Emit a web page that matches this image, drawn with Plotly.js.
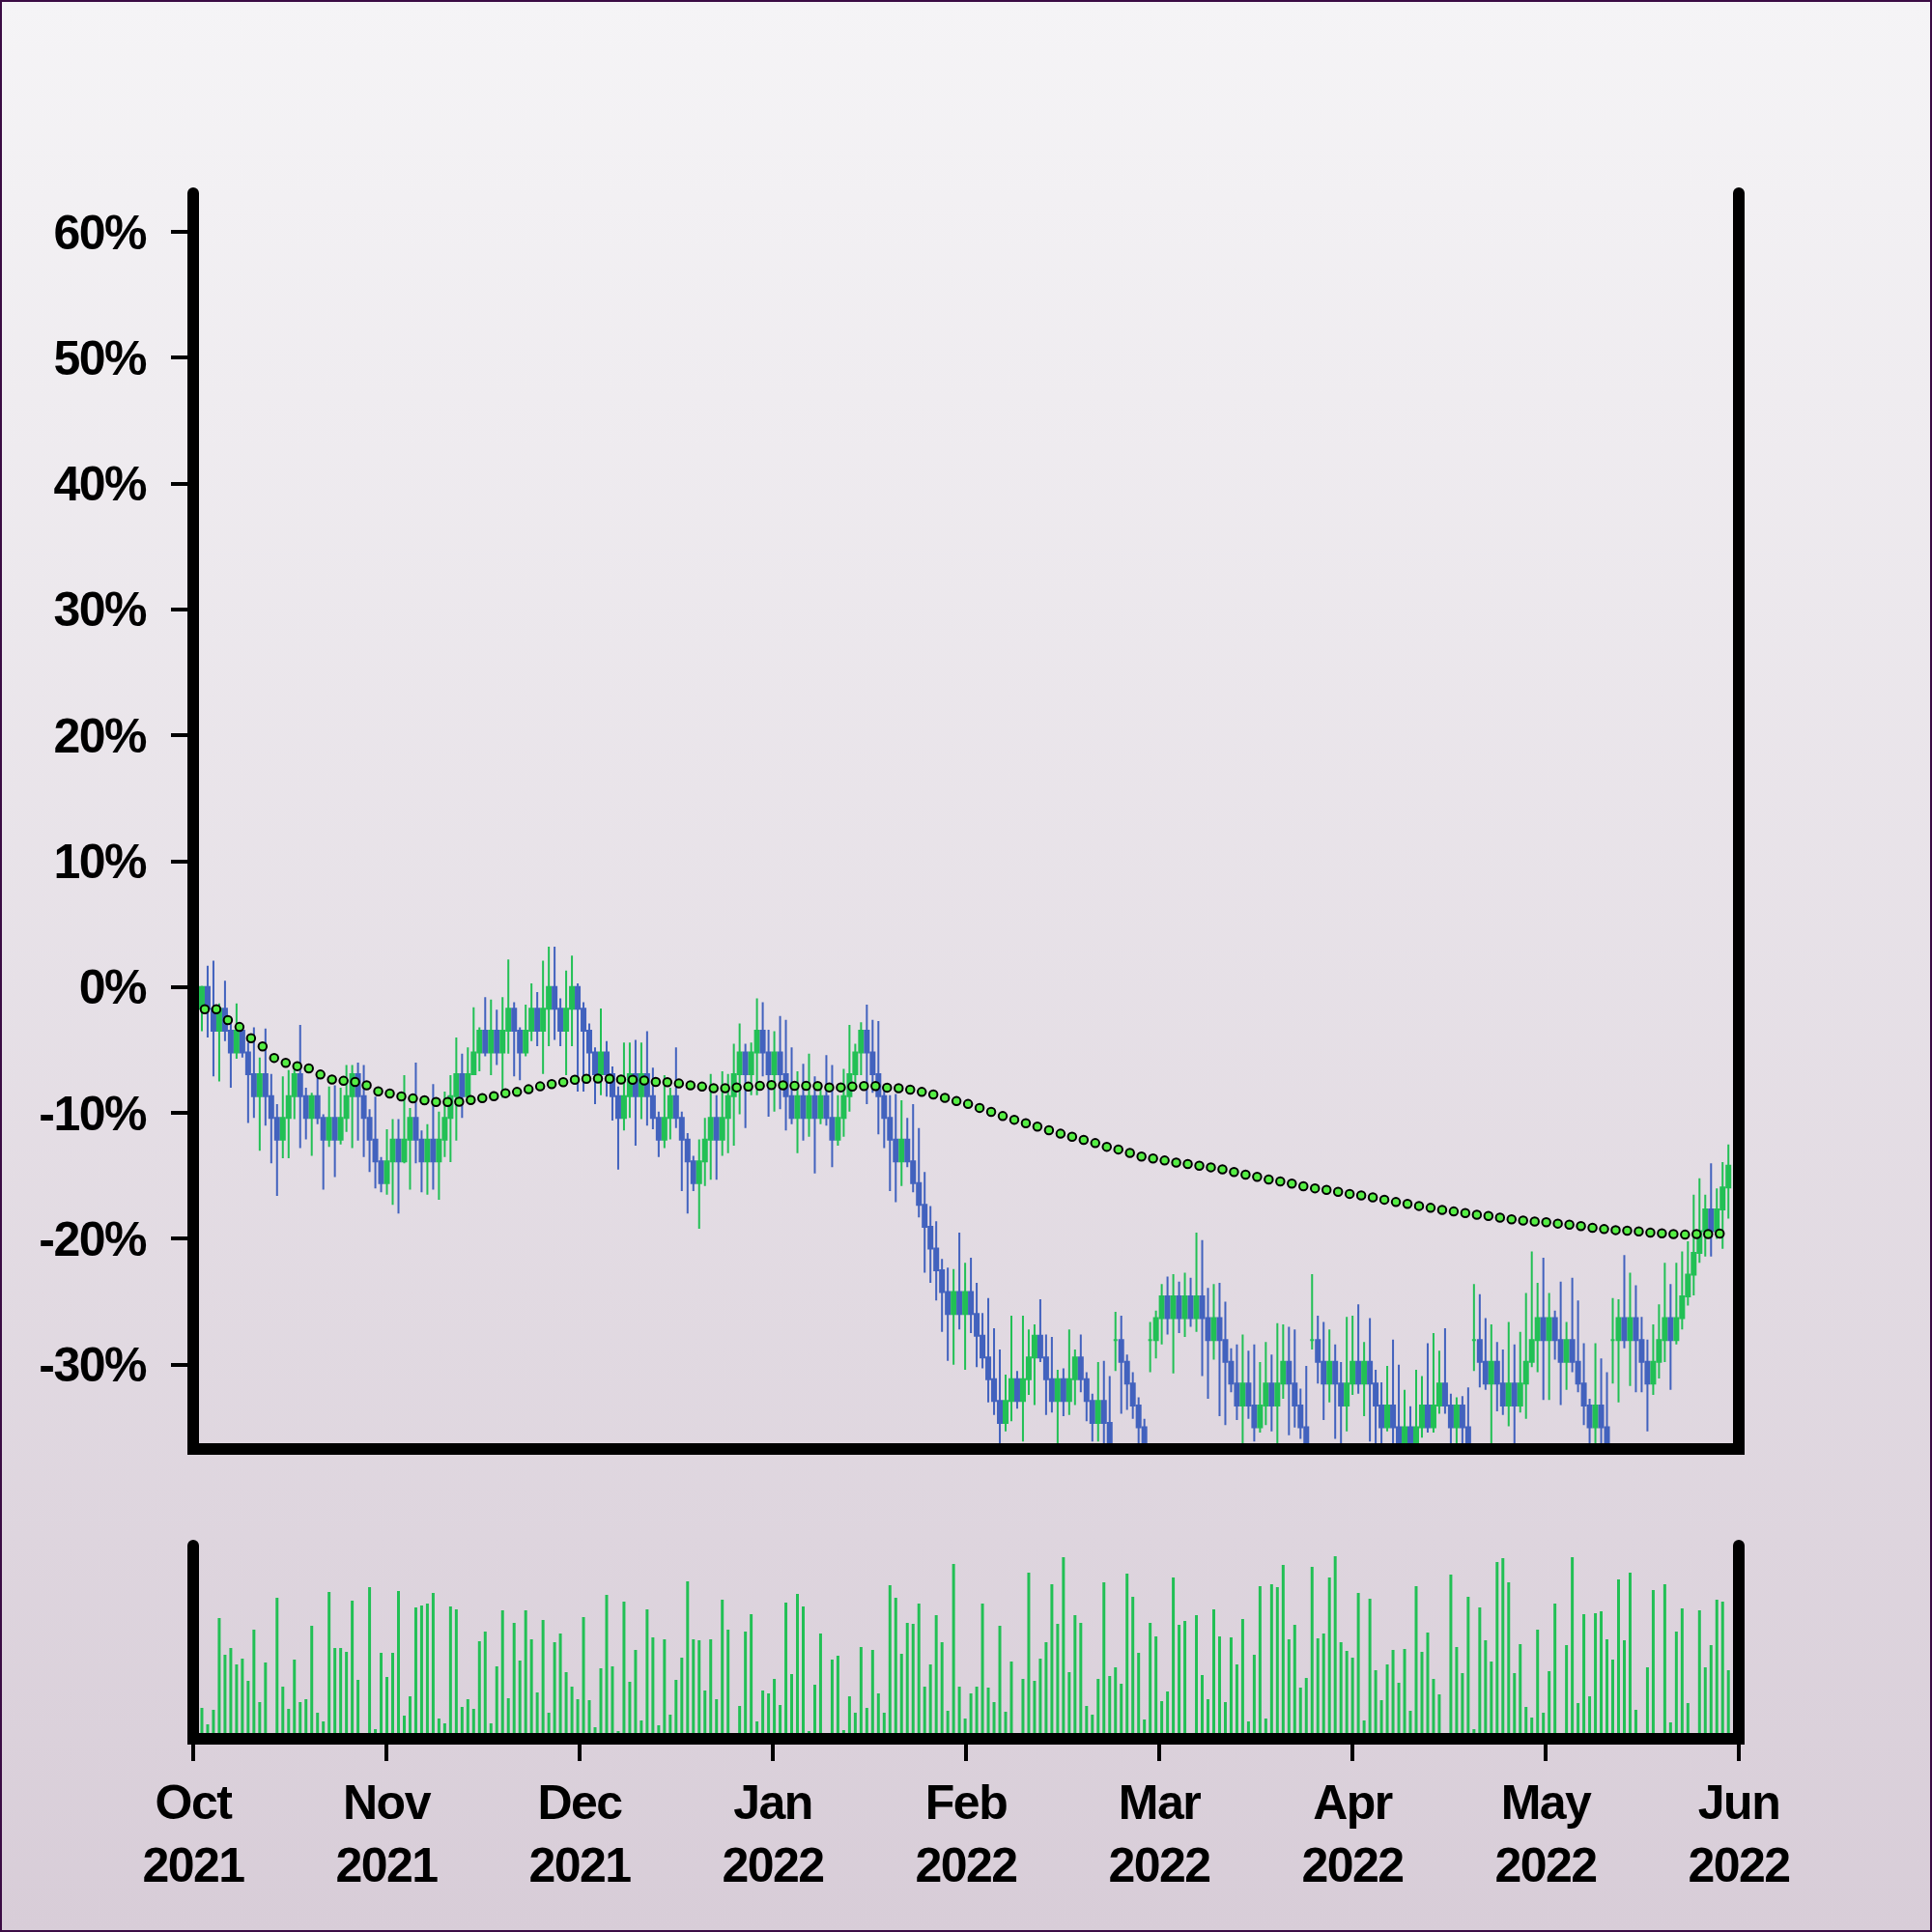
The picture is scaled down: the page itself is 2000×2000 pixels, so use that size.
<!DOCTYPE html>
<html>
<head>
<meta charset="utf-8">
<script src="https://cdn.plot.ly/plotly-3.0.1.min.js"></script>
<style>
  html, body { margin: 0; padding: 0; }
  #wrap {
    width: 2000px; height: 2000px; position: relative;
    background: linear-gradient(to bottom, #f5f4f6 0%, #d8cdd8 100%);
    box-shadow: inset 0 0 0 2px #3b0c44;
  }
  #chart { width: 2000px; height: 2000px; }
  .ytick text, .x2tick text { letter-spacing: -1.5px; }
</style>
</head>
<body>
<div id="wrap"><div id="chart"></div></div>
<script>
// ---------------- data (percent change vs. start) ----------------
const openPct = [-1.73,0,-1.73,-3.46,-1.73,-3.46,-5.19,-3.46,-5.19,-6.92,
-8.66,-6.92,-8.66,-10.39,-12.12,-10.39,-8.66,-6.92,-8.66,-10.39,
-8.66,-10.39,-12.12,-10.39,-12.12,-10.39,-8.66,-6.92,-8.66,-10.39,
-12.12,-13.85,-15.58,-13.85,-12.12,-13.85,-12.12,-10.39,-12.12,-13.85,
-12.12,-13.85,-12.12,-10.39,-8.66,-6.92,-8.66,-6.92,-5.19,-3.46,
-5.19,-3.46,-5.19,-3.46,-1.73,-3.46,-5.19,-3.46,-1.73,-3.46,
-1.73,0,-1.73,-3.46,-1.73,0,-1.73,-3.46,-5.19,-6.92,
-5.19,-6.92,-8.66,-10.39,-8.66,-6.92,-8.66,-6.92,-8.66,-10.39,
-12.12,-10.39,-8.66,-10.39,-12.12,-13.85,-15.58,-13.85,-12.12,-10.39,
-12.12,-10.39,-8.66,-6.92,-5.19,-6.92,-5.19,-3.46,-5.19,-6.92,
-5.19,-6.92,-8.66,-10.39,-8.66,-10.39,-8.66,-10.39,-8.66,-10.39,
-12.12,-10.39,-8.66,-6.92,-5.19,-3.46,-5.19,-6.92,-8.66,-10.39,
-12.12,-13.85,-12.12,-13.85,-15.58,-17.31,-19.04,-20.77,-22.50,-24.23,
-25.97,-24.23,-25.97,-24.23,-25.97,-27.70,-29.43,-31.16,-32.89,-34.62,
-32.89,-31.16,-32.89,-31.16,-29.43,-27.70,-29.43,-31.16,-32.89,-31.16,
-32.89,-31.16,-29.43,-31.16,-32.89,-34.62,-32.89,-34.62,-28.04,-28.04,
-29.77,-31.50,-33.24,-34.97,-28.04,-28.04,-26.31,-24.58,-26.31,-24.58,
-26.31,-24.58,-26.31,-24.58,-26.31,-28.04,-26.31,-28.04,-29.77,-31.50,
-33.24,-31.50,-33.24,-34.97,-33.24,-31.50,-33.24,-31.50,-29.77,-31.50,
-33.24,-34.97,-28.04,-28.04,-29.77,-31.50,-29.77,-31.50,-33.24,-31.50,
-29.77,-31.50,-29.77,-31.50,-33.24,-34.97,-33.24,-34.97,-36.70,-34.97,
-36.70,-34.97,-33.24,-34.97,-33.24,-31.50,-33.24,-34.97,-33.24,-34.97,
-28.04,-28.04,-29.77,-31.50,-29.77,-31.50,-33.24,-31.50,-33.24,-31.50,
-29.77,-28.04,-26.31,-28.04,-26.31,-28.04,-29.77,-28.04,-29.77,-31.50,
-33.24,-34.97,-33.24,-34.97,-28.04,-28.04,-26.31,-28.04,-26.31,-28.04,
-29.77,-31.50,-29.77,-28.04,-26.31,-28.04,-26.31,-24.58,-22.85,-21.12,
-19.39,-17.66,-19.39,-17.66,-15.93];

const closePct = [0,-1.73,-3.46,-1.73,-3.46,-5.19,-3.46,-5.19,-6.92,-8.66,
-6.92,-8.66,-10.39,-12.12,-10.39,-8.66,-6.92,-8.66,-10.39,-8.66,
-10.39,-12.12,-10.39,-12.12,-10.39,-8.66,-6.92,-8.66,-10.39,-12.12,
-13.85,-15.58,-13.85,-12.12,-13.85,-12.12,-10.39,-12.12,-13.85,-12.12,
-13.85,-12.12,-10.39,-8.66,-6.92,-8.66,-6.92,-5.19,-3.46,-5.19,
-3.46,-5.19,-3.46,-1.73,-3.46,-5.19,-3.46,-1.73,-3.46,-1.73,
0,-1.73,-3.46,-1.73,0,-1.73,-3.46,-5.19,-6.92,-5.19,
-6.92,-8.66,-10.39,-8.66,-6.92,-8.66,-6.92,-8.66,-10.39,-12.12,
-10.39,-8.66,-10.39,-12.12,-13.85,-15.58,-13.85,-12.12,-10.39,-12.12,
-10.39,-8.66,-6.92,-5.19,-6.92,-5.19,-3.46,-5.19,-6.92,-5.19,
-6.92,-8.66,-10.39,-8.66,-10.39,-8.66,-10.39,-8.66,-10.39,-12.12,
-10.39,-8.66,-6.92,-5.19,-3.46,-5.19,-6.92,-8.66,-10.39,-12.12,
-13.85,-12.12,-13.85,-15.58,-17.31,-19.04,-20.77,-22.50,-24.23,-25.97,
-24.23,-25.97,-24.23,-25.97,-27.70,-29.43,-31.16,-32.89,-34.62,-32.89,
-31.16,-32.89,-31.16,-29.43,-27.70,-29.43,-31.16,-32.89,-31.16,-32.89,
-31.16,-29.43,-31.16,-32.89,-34.62,-32.89,-34.62,-36.35,-28.04,-29.77,
-31.50,-33.24,-34.97,-36.70,-28.04,-26.31,-24.58,-26.31,-24.58,-26.31,
-24.58,-26.31,-24.58,-26.31,-28.04,-26.31,-28.04,-29.77,-31.50,-33.24,
-31.50,-33.24,-34.97,-33.24,-31.50,-33.24,-31.50,-29.77,-31.50,-33.24,
-34.97,-36.70,-28.04,-29.77,-31.50,-29.77,-31.50,-33.24,-31.50,-29.77,
-31.50,-29.77,-31.50,-33.24,-34.97,-33.24,-34.97,-36.70,-34.97,-36.70,
-34.97,-33.24,-34.97,-33.24,-31.50,-33.24,-34.97,-33.24,-34.97,-36.70,
-28.04,-29.77,-31.50,-29.77,-31.50,-33.24,-31.50,-33.24,-31.50,-29.77,
-28.04,-26.31,-28.04,-26.31,-28.04,-29.77,-28.04,-29.77,-31.50,-33.24,
-34.97,-33.24,-34.97,-36.70,-28.04,-26.31,-28.04,-26.31,-28.04,-29.77,
-31.50,-29.77,-28.04,-26.31,-28.04,-26.31,-24.58,-22.85,-21.12,-19.39,
-17.66,-19.39,-17.66,-15.93,-14.19];

const highPct = [0.1,1.7,2.1,-1.3,0.5,-2.9,-1.3,-3.2,-4.4,-3.2,
-5.6,-3.3,-6.9,-9.3,-7.1,-6.6,-6.2,-3.0,-8.0,-8.4,
-7.0,-10.1,-7.9,-7.8,-8.0,-6.2,-6.2,-6.0,-6.2,-9.7,
-8.7,-13.5,-11.3,-10.5,-10.5,-7.0,-9.6,-6.0,-11.4,-10.9,
-7.7,-9.9,-8.3,-7.0,-4.0,-5.3,-4.8,-1.6,-3.2,-0.8,
-1.0,-1.8,-0.8,2.2,-1.2,-3.2,-1.4,0.3,-0.4,2.1,
3.2,3.2,-0.9,1.3,2.5,0.3,-1.2,-2.9,-4.8,-1.7,
-4.3,-6.3,-7.9,-4.4,-4.4,-4.2,-4.4,-3.5,-6.4,-9.9,
-7.0,-8.0,-4.8,-9.9,-11.6,-13.4,-12.1,-10.4,-6.9,-8.6,
-6.7,-6.9,-4.5,-2.9,-4.5,-4.4,-0.9,-1.2,-3.4,-3.5,
-2.3,-2.6,-4.8,-6.7,-6.1,-5.3,-7.1,-7.8,-5.4,-6.2,
-8.6,-6.5,-3.0,-4.5,-2.8,-1.4,-2.6,-2.7,-8.2,-8.6,
-8.5,-9.0,-10.4,-9.3,-11.2,-14.7,-17.4,-18.6,-21.6,-22.3,
-22.4,-19.5,-21.9,-21.5,-23.5,-25.9,-24.7,-27.1,-28.8,-30.8,
-26.1,-30.5,-26.1,-27.2,-26.8,-24.8,-27.6,-27.8,-30.4,-30.3,
-27.2,-28.8,-27.6,-30.6,-32.3,-29.8,-29.7,-30.9,-25.8,-26.1,
-29.2,-30.6,-32.6,-34.3,-26.6,-25.7,-23.6,-23.0,-22.8,-23.4,
-22.7,-23.1,-19.5,-20.1,-23.9,-23.6,-23.5,-25.0,-28.7,-28.4,
-27.6,-28.9,-28.4,-29.8,-28.2,-29.2,-26.7,-26.8,-27.0,-27.2,
-31.9,-30.1,-22.8,-26.1,-26.6,-27.2,-28.4,-29.8,-26.2,-26.1,
-25.2,-28.2,-26.3,-30.4,-31.4,-30.1,-28.0,-30.0,-32.0,-33.3,
-30.4,-30.9,-28.3,-27.5,-28.9,-27.1,-32.3,-32.6,-32.5,-31.8,
-23.6,-24.4,-26.3,-26.8,-28.2,-28.8,-26.6,-28.4,-27.4,-24.3,
-21.0,-23.5,-21.5,-24.3,-25.7,-23.4,-26.6,-23.1,-24.9,-28.3,
-32.7,-28.3,-29.5,-30.6,-24.7,-24.8,-21.3,-22.7,-23.7,-26.2,
-28.0,-26.8,-25.2,-21.9,-23.6,-21.9,-21.0,-20.2,-16.5,-15.2,
-16.5,-14.0,-16.0,-13.9,-12.5];

const lowPct = [-3.5,-4.0,-7.1,-7.5,-4.3,-8.0,-5.7,-5.6,-10.8,-10.4,
-13.0,-11.0,-14.0,-16.6,-13.6,-13.6,-10.5,-12.8,-12.1,-13.4,
-10.9,-16.1,-12.7,-15.1,-12.5,-11.5,-12.8,-12.2,-13.5,-14.7,
-16.0,-16.3,-16.5,-17.3,-18.0,-14.0,-16.1,-14.0,-16.3,-16.5,
-16.1,-16.9,-13.5,-13.9,-12.2,-10.4,-8.8,-7.0,-6.7,-5.5,
-7.0,-6.2,-8.8,-5.3,-7.1,-7.4,-5.5,-4.3,-4.7,-6.9,
-4.7,-4.2,-4.7,-7.0,-4.7,-8.3,-8.3,-7.0,-9.3,-8.6,
-8.7,-10.6,-14.5,-11.4,-10.4,-12.6,-10.5,-11.0,-11.3,-13.5,
-12.8,-12.1,-11.2,-16.2,-18.0,-16.2,-19.2,-15.8,-15.3,-15.3,
-13.4,-13.2,-12.6,-10.1,-11.2,-8.6,-8.6,-7.1,-10.3,-9.9,
-9.7,-11.4,-10.9,-13.2,-12.2,-11.9,-14.8,-10.9,-11.0,-14.3,
-12.6,-11.9,-9.9,-8.0,-7.0,-9.3,-8.4,-11.7,-12.8,-16.2,
-17.1,-15.8,-14.3,-16.3,-18.3,-22.7,-23.5,-24.9,-27.4,-29.7,
-30.0,-27.2,-30.4,-27.5,-30.2,-30.3,-33.0,-34.0,-37.5,-35.3,
-34.5,-33.5,-36.1,-32.4,-33.2,-29.8,-34.0,-33.8,-37.0,-34.1,
-34.0,-33.2,-32.2,-34.5,-36.1,-36.1,-37.0,-37.0,-30.5,-33.9,
-33.6,-34.3,-37.0,-37.0,-30.6,-29.5,-28.4,-27.6,-30.7,-27.5,
-27.8,-27.0,-27.4,-30.9,-32.7,-29.6,-34.1,-34.8,-32.2,-34.4,
-37.0,-34.3,-36.1,-35.4,-34.8,-35.3,-37.0,-32.7,-35.6,-35.0,
-35.9,-37.0,-28.8,-31.5,-34.4,-33.0,-35.9,-37.0,-35.3,-32.4,
-32.3,-34.1,-36.1,-37.0,-37.0,-35.3,-37.0,-37.0,-37.0,-37.0,
-37.0,-35.8,-35.4,-35.4,-33.9,-33.9,-37.0,-37.0,-37.0,-37.0,
-30.5,-31.8,-32.0,-37.0,-33.7,-34.0,-34.9,-37.0,-33.8,-34.3,
-30.2,-30.6,-32.8,-32.8,-29.6,-33.2,-32.0,-30.6,-32.2,-34.8,
-37.0,-37.0,-37.0,-37.0,-31.5,-33.0,-28.7,-31.7,-32.2,-32.2,
-35.3,-32.4,-31.1,-29.8,-32.0,-28.4,-27.2,-25.3,-24.5,-21.9,
-21.4,-21.4,-20.0,-20.8,-18.4];

const volume = [32,15,30,125,87,94,77,83,60,113,
38,79,6,146,54,31,82,38,41,117,
27,18,152,94,94,90,143,61,6,157,
10,89,64,89,153,24,44,136,138,140,
151,21,16,137,134,33,41,31,101,111,
16,75,133,42,120,81,133,103,48,123,
27,100,109,69,54,41,126,40,12,73,
149,75,8,142,59,92,19,134,105,14,
103,25,61,84,163,103,102,50,103,41,
144,113,6,34,111,129,18,50,47,62,
35,141,67,150,137,8,56,109,6,82,
86,9,44,27,95,32,92,47,27,159,
146,88,120,119,140,54,77,128,100,29,
181,54,21,47,54,140,53,38,117,28,
80,6,62,172,60,83,100,160,119,188,
69,128,120,34,25,62,162,65,74,57,
171,147,89,20,120,106,39,49,167,118,
122,6,128,66,41,134,106,38,105,77,
124,18,87,158,21,160,157,180,103,118,
53,63,178,104,109,167,189,100,91,84,
151,19,145,71,40,77,92,58,93,29,
158,90,110,62,46,6,170,95,68,147,
10,136,102,80,183,187,162,68,98,33,
22,113,27,70,140,6,97,188,37,129,
44,130,132,103,82,165,102,172,30,6,
74,154,6,160,17,111,135,37,6,133,
74,97,144,142,71];

const maPct = [-1.76,-1.76,-2.62,-3.17,-4.07,-4.72,-5.63,-6.02,-6.28,-6.46,
-6.95,-7.34,-7.45,-7.53,-7.81,-8.28,-8.46,-8.69,-8.85,-9.00,
-9.13,-9.13,-9.11,-8.98,-8.82,-8.67,-8.43,-8.33,-8.12,-7.89,
-7.71,-7.55,-7.37,-7.29,-7.27,-7.29,-7.34,-7.37,-7.42,-7.53,
-7.55,-7.66,-7.81,-7.91,
-8.04,-8.04,-7.97,-7.91,-7.84,-7.79,-7.81,-7.84,-7.84,-7.86,
-7.97,-7.97,-7.91,-7.86,-7.86,-7.99,-8.04,-8.15,-8.33,-8.54,
-8.80,-9.06,-9.29,-9.60,-9.91,-10.25,-10.54,-10.82,-11.08,-11.37,
-11.65,-11.89,-12.14,-12.40,-12.69,-12.90,-13.18,-13.47,-13.62,-13.78,
-13.94,-14.06,-14.19,-14.32,-14.48,
-14.69,-14.90,-15.08,-15.29,-15.44,-15.62,-15.83,-15.99,-16.11,-16.27,
-16.43,-16.56,-16.71,-16.89,-17.08,-17.23,-17.39,-17.54,-17.70,-17.83,
-17.96,-18.09,-18.19,-18.32,-18.45,-18.55,-18.63,-18.68,-18.79,-18.87,
-18.99,-19.12,-19.23,-19.31,-19.36,-19.41,-19.51,-19.57,-19.62,-19.67,
-19.62,-19.62,-19.59];

const monthLabels = ['Oct<br>2021','Nov<br>2021','Dec<br>2021','Jan<br>2022','Feb<br>2022',
                     'Mar<br>2022','Apr<br>2022','May<br>2022','Jun<br>2022'];
const yTickValues = [-30,-20,-10,0,10,20,30,40,50,60];
const yTickLabels = ['-30%','-20%','-10%','0%','10%','20%','30%','40%','50%','60%'];

// ---------------- build ----------------
const idx = openPct.map((_, i) => i);
const maX = maPct.map((_, k) => 0.5 + 2 * k);
const xRange = [-1.5, 265.8];
const xTickVals = monthLabels.map((_, k) => xRange[0] + k * (xRange[1] - xRange[0]) / (monthLabels.length - 1));

const GREEN = '#22c055', BLUE = '#4262be';
const FONT = {family: '"Liberation Sans", Arial, Helvetica, sans-serif', size: 50, color: '#000', weight: 'bold'};

const traces = [
  {
    type: 'candlestick', x: idx, open: openPct, high: highPct, low: lowPct, close: closePct,
    xaxis: 'x', yaxis: 'y',
    increasing: {line: {color: GREEN, width: 2}, fillcolor: GREEN},
    decreasing: {line: {color: BLUE, width: 2}, fillcolor: BLUE},
    whiskerwidth: 0, hoverinfo: 'skip', showlegend: false
  },
  {
    type: 'scatter', mode: 'markers', x: maX, y: maPct, xaxis: 'x', yaxis: 'y',
    marker: {size: 8.5, color: '#55ee44', line: {color: '#000', width: 2}},
    hoverinfo: 'skip', showlegend: false
  },
  {
    type: 'bar', x: idx, y: volume, xaxis: 'x2', yaxis: 'y2',
    marker: {color: GREEN, line: {width: 0}}, hoverinfo: 'skip', showlegend: false
  }
];

const r = 6 / 1600; // half line width in paper units
const shapes = [
  {type: 'path', xref: 'paper', yref: 'paper', path: 'M 0 1 L 0 0.1875 L 1 0.1875 L 1 1', line: {color: '#000', width: 12}},
  {type: 'path', xref: 'paper', yref: 'paper', path: 'M 0 0.125 L 0 0 L 1 0 L 1 0.125', line: {color: '#000', width: 12}},
  {type: 'circle', xref: 'paper', yref: 'paper', x0: -r, x1: r, y0: 1 - r, y1: 1 + r, fillcolor: '#000', line: {width: 0}},
  {type: 'circle', xref: 'paper', yref: 'paper', x0: 1 - r, x1: 1 + r, y0: 1 - r, y1: 1 + r, fillcolor: '#000', line: {width: 0}},
  {type: 'circle', xref: 'paper', yref: 'paper', x0: -r, x1: r, y0: 0.125 - r, y1: 0.125 + r, fillcolor: '#000', line: {width: 0}},
  {type: 'circle', xref: 'paper', yref: 'paper', x0: 1 - r, x1: 1 + r, y0: 0.125 - r, y1: 0.125 + r, fillcolor: '#000', line: {width: 0}}
];

const layout = {
  width: 2000, height: 2000,
  paper_bgcolor: 'rgba(0,0,0,0)', plot_bgcolor: 'rgba(0,0,0,0)',
  margin: {l: 200, r: 200, t: 200, b: 200, pad: 0},
  showlegend: false,
  boxgap: 0.33, boxgroupgap: 0,
  bargap: 0.5,
  xaxis: {domain: [0, 1], anchor: 'y', range: xRange, showticklabels: false, ticks: '',
          showgrid: false, zeroline: false, showline: false, rangeslider: {visible: false}},
  yaxis: {domain: [0.1875, 1], anchor: 'x', range: [-36.70, 63.07],
          tickmode: 'array', tickvals: yTickValues, ticktext: yTickLabels,
          ticks: 'outside', ticklen: 22, tickwidth: 4, tickcolor: '#000', ticklabelstandoff: 16,
          showgrid: false, zeroline: false, showline: false, tickfont: FONT},
  xaxis2: {domain: [0, 1], anchor: 'y2', range: xRange,
           tickmode: 'array', tickvals: xTickVals, ticktext: monthLabels,
           ticks: 'outside', ticklen: 22, tickwidth: 4, tickcolor: '#000',
           showgrid: false, zeroline: false, showline: false, tickfont: FONT},
  yaxis2: {domain: [0, 0.125], anchor: 'x2', range: [0, 200], showticklabels: false, ticks: '',
           showgrid: false, zeroline: false, showline: false},
  shapes: shapes
};

Plotly.newPlot('chart', traces, layout, {staticPlot: true, displayModeBar: false});
</script>
</body>
</html>
